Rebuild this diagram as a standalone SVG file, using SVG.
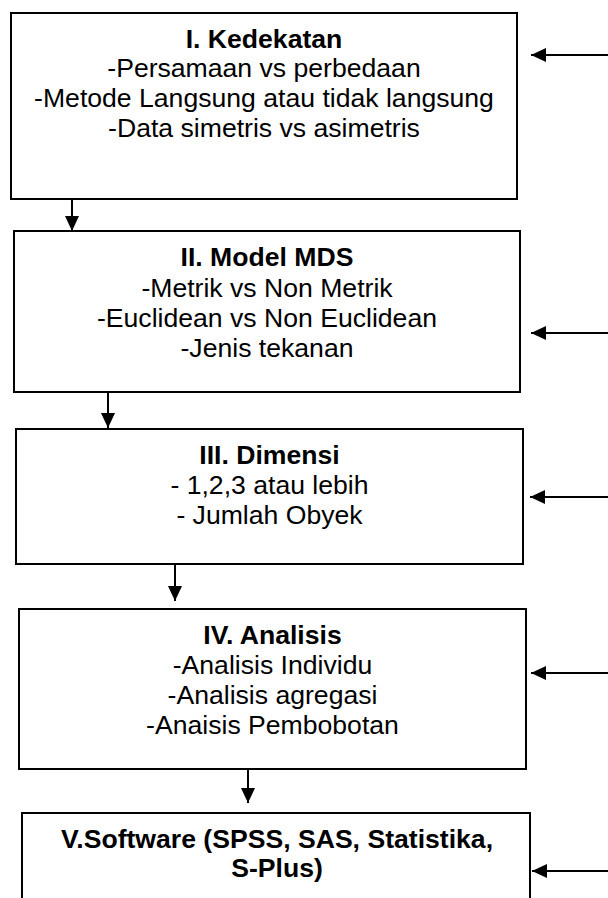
<svg xmlns="http://www.w3.org/2000/svg" width="608" height="898" viewBox="0 0 608 898">
  <style>
    .box { fill: #ffffff; stroke: #000000; stroke-width: 2; }
    .link { stroke: #000000; stroke-width: 2; fill: none; }
    text { font-family: "Liberation Sans", Arial, sans-serif; font-size: 26.6px; fill: #000000; text-anchor: middle; }
    .title { font-weight: bold; }
  </style>
  <defs>
    <marker id="head" markerWidth="8" markerHeight="8" refX="7.5" refY="3.5" orient="auto" markerUnits="strokeWidth">
      <path d="M0,0 L7.5,3.5 L0,7 Z" fill="#000000"/>
    </marker>
  </defs>
  <rect width="608" height="898" fill="#ffffff"/>

  <g id="node-kedekatan">
    <rect class="box" x="11" y="13" width="506" height="186"/>
    <text class="title" x="264" y="47.5">I. Kedekatan</text>
    <text x="264" y="77">-Persamaan vs perbedaan</text>
    <text x="264" y="107">-Metode Langsung atau tidak langsung</text>
    <text x="264" y="137">-Data simetris vs asimetris</text>
  </g>

  <g id="node-model">
    <rect class="box" x="14" y="231" width="506" height="161"/>
    <text class="title" x="267" y="266">II. Model MDS</text>
    <text x="267" y="297">-Metrik vs Non Metrik</text>
    <text x="267" y="327">-Euclidean vs Non Euclidean</text>
    <text x="267" y="357">-Jenis tekanan</text>
  </g>

  <g id="node-dimensi">
    <rect class="box" x="16" y="429" width="507" height="135"/>
    <text class="title" x="269.5" y="464">III. Dimensi</text>
    <text x="269.5" y="494">- 1,2,3 atau lebih</text>
    <text x="269.5" y="524">- Jumlah Obyek</text>
  </g>

  <g id="node-analisis">
    <rect class="box" x="19" y="609" width="507" height="160"/>
    <text class="title" x="272.5" y="644">IV. Analisis</text>
    <text x="272.5" y="674">-Analisis Individu</text>
    <text x="272.5" y="704">-Analisis agregasi</text>
    <text x="272.5" y="734">-Anaisis Pembobotan</text>
  </g>

  <g id="node-software">
    <rect class="box" x="22" y="813" width="508" height="100"/>
    <text class="title" x="277" y="848">V.Software (SPSS, SAS, Statistika,</text>
    <text class="title" x="277" y="877">S-Plus)</text>
  </g>

  <g id="connectors">
    <!-- flow between the stages -->
    <line class="link" x1="72" y1="199" x2="72" y2="231" marker-end="url(#head)"/>
    <line class="link" x1="108" y1="392" x2="108" y2="428" marker-end="url(#head)"/>
    <line class="link" x1="175" y1="564" x2="175" y2="601" marker-end="url(#head)"/>
    <line class="link" x1="248" y1="769" x2="248" y2="803" marker-end="url(#head)"/>
    <!-- inputs entering from the right -->
    <line class="link" x1="608" y1="55" x2="531" y2="55" marker-end="url(#head)"/>
    <line class="link" x1="608" y1="333" x2="531" y2="333" marker-end="url(#head)"/>
    <line class="link" x1="608" y1="497" x2="530" y2="497" marker-end="url(#head)"/>
    <line class="link" x1="608" y1="673" x2="531" y2="673" marker-end="url(#head)"/>
    <line class="link" x1="608" y1="871" x2="532" y2="871" marker-end="url(#head)"/>
  </g>
</svg>
